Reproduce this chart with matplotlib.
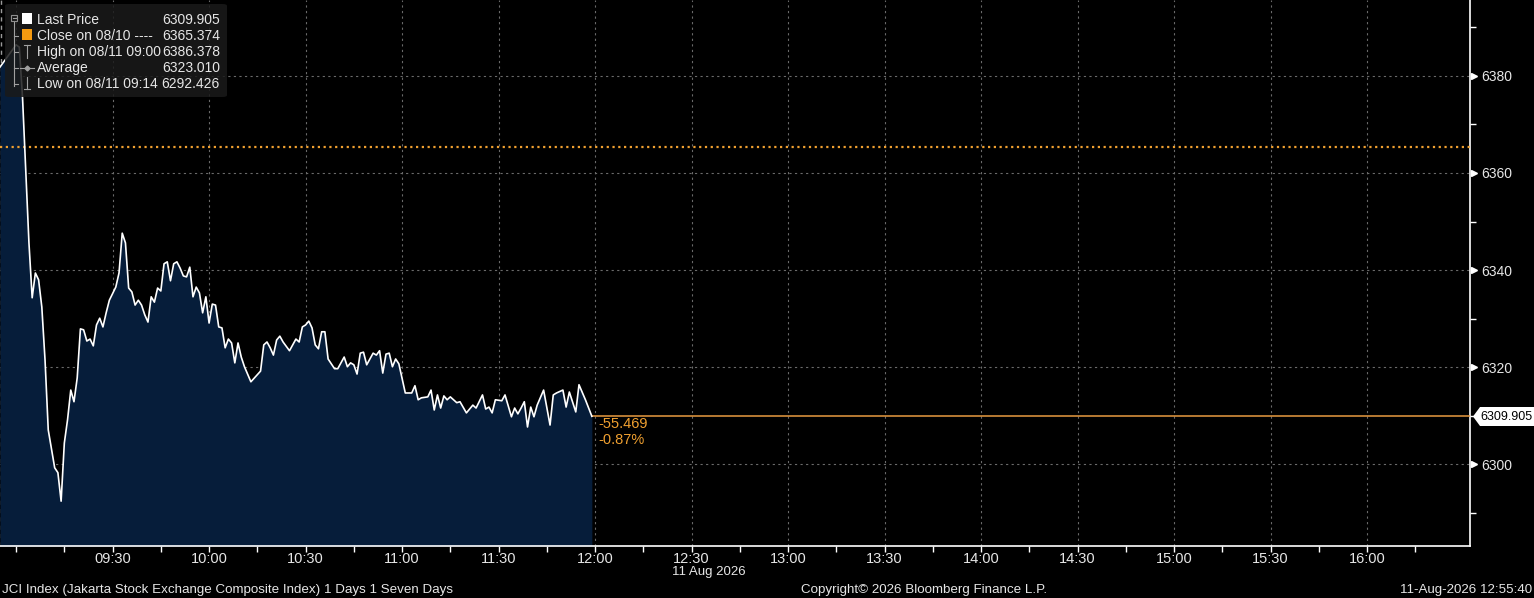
import matplotlib
matplotlib.use('Agg')

import pandas as pd
import matplotlib.pyplot as plt
from matplotlib.patches import FancyBboxPatch, Polygon, Rectangle
from matplotlib.lines import Line2D
from matplotlib.transforms import blended_transform_factory

plt.rcParams['font.family'] = ['Liberation Sans', 'DejaVu Sans']

# intraday JCI prices, 11 Aug 2026
times = [
    "08:55", "09:00", "09:01", "09:02", "09:03", "09:04", "09:05", "09:06", "09:07", "09:08",
    "09:09", "09:10", "09:12", "09:13", "09:14", "09:15", "09:16", "09:17", "09:18", "09:19",
    "09:20", "09:21", "09:22", "09:23", "09:24", "09:25", "09:26", "09:27", "09:28", "09:29",
    "09:31", "09:32", "09:33", "09:34", "09:35", "09:36", "09:37", "09:38", "09:39", "09:40",
    "09:41", "09:42", "09:43", "09:44", "09:45", "09:46", "09:47", "09:48", "09:49", "09:50",
    "09:51", "09:52", "09:53", "09:54", "09:55", "09:56", "09:57", "09:58", "09:59", "10:00",
    "10:01", "10:02", "10:03", "10:04", "10:05", "10:06", "10:07", "10:08", "10:09", "10:10",
    "10:11", "10:13", "10:16", "10:17", "10:18", "10:19", "10:20", "10:21", "10:22", "10:23",
    "10:25", "10:27", "10:28", "10:29", "10:30", "10:31", "10:32", "10:33", "10:34", "10:35",
    "10:36", "10:37", "10:38", "10:39", "10:40", "10:42", "10:43", "10:44", "10:45", "10:46",
    "10:47", "10:48", "10:49", "10:51", "10:52", "10:53", "10:54", "10:55", "10:56", "10:57",
    "10:58", "10:59", "11:01", "11:03", "11:04", "11:05", "11:06", "11:08", "11:09", "11:10",
    "11:11", "11:12", "11:13", "11:14", "11:15", "11:17", "11:18", "11:20", "11:22", "11:23",
    "11:25", "11:26", "11:27", "11:28", "11:29", "11:31", "11:32", "11:34", "11:35", "11:36",
    "11:37", "11:38", "11:39", "11:40", "11:41", "11:42", "11:44", "11:46", "11:47", "11:48",
    "11:50", "11:51", "11:52", "11:54", "11:55", "11:57", "11:59",
]
prices = [
    6381.8, 6386.378, 6385.9, 6375.6, 6360.6, 6345.6, 6334.3, 6339.4, 6338.0, 6332.4,
    6321.5, 6307.1, 6299.3, 6298.3, 6292.426, 6304.4, 6309.2, 6315.3, 6312.9, 6317.8,
    6327.9, 6327.7, 6325.4, 6325.8, 6324.4, 6328.7, 6330.1, 6328.3, 6331.2, 6333.8,
    6336.5, 6339.4, 6347.6, 6345.6, 6336.3, 6335.5, 6332.8, 6333.8, 6332.8, 6330.8,
    6329.3, 6334.5, 6333.4, 6336.3, 6335.7, 6341.3, 6341.7, 6337.8, 6341.3, 6341.7,
    6340.4, 6338.8, 6338.6, 6340.6, 6334.5, 6336.5, 6335.3, 6331.2, 6334.5, 6329.1,
    6333.0, 6332.8, 6328.3, 6328.1, 6324.0, 6325.8, 6325.0, 6320.9, 6325.0, 6322.1,
    6320.1, 6317.0, 6319.2, 6324.6, 6325.2, 6324.0, 6322.5, 6325.6, 6326.4, 6325.2,
    6323.4, 6325.8, 6325.2, 6328.3, 6328.7, 6329.5, 6328.1, 6324.6, 6323.8, 6327.3,
    6327.3, 6321.7, 6320.7, 6319.7, 6319.7, 6322.1, 6320.1, 6320.9, 6320.5, 6318.6,
    6322.9, 6323.1, 6320.5, 6322.9, 6322.5, 6323.4, 6318.8, 6322.7, 6322.9, 6320.1,
    6321.7, 6320.7, 6314.7, 6314.7, 6316.2, 6313.3, 6313.7, 6313.9, 6315.3, 6311.2,
    6314.3, 6311.6, 6314.1, 6313.3, 6313.9, 6312.7, 6312.9, 6310.6, 6312.2, 6311.6,
    6314.3, 6311.4, 6311.8, 6310.6, 6313.3, 6313.1, 6314.3, 6309.8, 6311.6, 6310.4,
    6311.6, 6312.9, 6307.7, 6311.8, 6309.8, 6312.2, 6315.3, 6308.1, 6314.3, 6314.7,
    6315.3, 6311.8, 6314.9, 6310.8, 6316.4, 6313.3, 6309.905,
]
assert len(times) == len(prices)

last_price = 6309.905
prev_close = 6365.374
change = -55.469
change_pct = "-0.87%"

legend_labels = ["Last Price", "Close on 08/10 ----", "High on 08/11 09:00", "Average", "Low on 08/11 09:14"]
legend_values = ["6309.905", "6365.374", "6386.378", "6323.010", "6292.426"]

y_major = [6300, 6320, 6340, 6360, 6380]
y_minor = [6290, 6310, 6330, 6350, 6370, 6390]

DAY = "2026-08-11 "
W, H = 1534, 598
FG = '#e6e6e6'
ORANGE = '#f0a030'
FILL = '#061d3a'
GRID = '#6a6a6a'

t = pd.to_datetime([DAY + s for s in times])

fig = plt.figure(figsize=(W / 100, H / 100), dpi=100, facecolor='black')
ax = fig.add_axes([0, 52 / H, 1470 / W, 546 / H])
ax.set_facecolor('black')

x_left = pd.Timestamp(DAY + "08:55")
x_right = pd.Timestamp(DAY + "16:32")
y_low, y_high = 6283.2, 6395.6
ax.set_xlim(x_left, x_right)
ax.set_ylim(y_low, y_high)

# grid
for g in pd.date_range(DAY + "09:00", DAY + "16:00", freq="30min"):
    ax.axvline(g, color=GRID, lw=0.8, ls=(0, (2, 3)), zorder=1)
ax.axvline(x_left + pd.Timedelta(seconds=20), color='#9a9a9a', lw=1, ls=(0, (3, 3)), zorder=1)
for v in y_major:
    ax.axhline(v, color=GRID, lw=0.8, ls=(0, (2, 3)), zorder=1)

# price area + line
ax.fill_between(t, prices, y_low, color=FILL, lw=0, zorder=2)
ax.plot(t, prices, color='white', lw=1.2, zorder=4)
ax.axhline(prev_close, color=ORANGE, lw=1.6, ls=(0, (1, 1.6)), zorder=3)
ax.plot([t[-1], x_right], [last_price, last_price], color='#e89a40', lw=1.1, zorder=3)

# axes styling
for s in ['left', 'top']:
    ax.spines[s].set_visible(False)
for s in ['right', 'bottom']:
    ax.spines[s].set_color('white')
    ax.spines[s].set_linewidth(1.2)

ax.yaxis.tick_right()
ax.set_yticks(y_major)
ax.set_yticks(y_minor, minor=True)
ax.tick_params(axis='y', which='major', length=0, pad=8, labelsize=10, labelcolor=FG)
ax.tick_params(axis='y', which='minor', length=4, width=1, color='white', direction='out')
tri = blended_transform_factory(ax.transAxes, ax.transData)
ax.plot([1.0 + 4 / 1470] * len(y_major), y_major, ls='none', marker='>', ms=5,
        color='white', transform=tri, clip_on=False, zorder=6)

ticks15 = pd.date_range(DAY + "09:00", DAY + "16:15", freq="15min")
ax.set_xticks(ticks15)
tick_labels = [d.strftime("%H:%M") if (d.minute % 30 == 0 and d.hour * 60 + d.minute >= 570) else ""
               for d in ticks15]
ax.set_xticklabels(tick_labels)
ax.tick_params(axis='x', length=4, width=1, color='white', direction='out', pad=0.5,
               labelsize=10.5, labelcolor=FG)


def px(x, y):
    return x / W, 1 - y / H


# change annotations
fig.text(*px(598, 424), f"{change:.3f}", color=ORANGE, fontsize=10.5, va='center')
fig.text(*px(598, 440), change_pct, color=ORANGE, fontsize=10.5, va='center')

# last price tag on the axis
tag = Polygon([px(1473, 416.5), px(1480, 407), px(1534, 407), px(1534, 426), px(1480, 426)],
              closed=True, transform=fig.transFigure, facecolor='white', edgecolor='none', zorder=10)
fig.patches.append(tag)
fig.text(*px(1480, 416.5), f"{last_price:.3f}", color='black', fontsize=9, va='center', zorder=11)

# legend box
box = FancyBboxPatch(px(5, 97), 222 / W, 93 / H, boxstyle="round,pad=0,rounding_size=0.003",
                     transform=fig.transFigure, facecolor='#1a1a1a', edgecolor='none', alpha=0.85, zorder=8)
fig.patches.append(box)
rows_y = [20, 36, 52, 68, 84]
for lab, val, yy in zip(legend_labels, legend_values, rows_y):
    fig.text(*px(37, yy), lab, color=FG, fontsize=10, va='center', zorder=9)
    fig.text(*px(220, yy), val, color=FG, fontsize=10, va='center', ha='right', zorder=9)

icon_kw = dict(transform=fig.transFigure, zorder=9)
fig.patches.append(Rectangle(px(22, 24), 10 / W, 11 / H, facecolor='white', edgecolor='none', **icon_kw))
fig.patches.append(Rectangle(px(22, 40), 10 / W, 11 / H, facecolor='#f59a10', edgecolor='none', **icon_kw))
fig.patches.append(Rectangle(px(11, 21), 6 / W, 6 / H, facecolor='none', edgecolor='#909090', lw=0.8, **icon_kw))
gray = '#a0a0a0'
segs = [
    ((12.5, 18), (15.5, 18)),          # minus in the box
    ((14, 21), (14, 86)),              # tree stem
    ((14, 36), (18, 36)), ((14, 52), (18, 52)), ((14, 68), (18, 68)), ((14, 84), (18, 84)),
    ((24, 45), (30, 45)), ((27, 45), (27, 58)),   # high
    ((20, 68), (34, 68)),                         # average
    ((27, 77), (27, 89)), ((24, 89), (30, 89)),   # low
]
for a, b in segs:
    (x0, y0), (x1, y1) = px(*a), px(*b)
    fig.lines.append(Line2D([x0, x1], [y0, y1], color=gray, lw=0.8, **icon_kw))
fig.lines.append(Line2D([px(27, 68)[0]], [px(27, 68)[1]], marker='D', ms=2.5, color=gray, ls='none', **icon_kw))

# date under the axis and footer
fig.text(*px(709, 572), "11 Aug 2026", color=FG, fontsize=9.5, ha='center', va='center')
fig.text(*px(2, 590), "JCI Index (Jakarta Stock Exchange Composite Index) 1 Days 1 Seven Days",
         color=FG, fontsize=9.6, va='center')
fig.text(*px(924, 590), "Copyright\u00a9 2026 Bloomberg Finance L.P.", color=FG, fontsize=9.6,
         ha='center', va='center')
fig.text(*px(1532, 590), "11-Aug-2026 12:55:40", color=FG, fontsize=9.6, ha='right', va='center')

fig.savefig("out.png", dpi=100, facecolor='black')
